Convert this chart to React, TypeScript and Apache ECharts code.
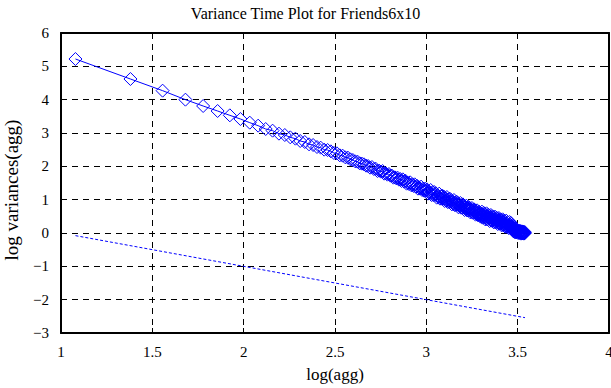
import React, { useEffect, useRef } from "react";
import * as echarts from "echarts";

const titleText = "Variance Time Plot for Friends6x10";
const xAxisName = "log(agg)";
const yAxisName = "log variances(agg)";

const xTicks = [1, 1.5, 2, 2.5, 3, 3.5, 4];
const yTicks = [-3, -2, -1, 0, 1, 2, 3, 4, 5, 6];

// aggregation levels (x axis shows log10 of these)
const aggLevels = [
  12, 24, 36, 48, 60, 72, 84, 96, 108, 120,
  132, 144, 156, 168, 180, 192, 204, 216, 228, 240,
  252, 264, 276, 288, 300, 312, 324, 336, 348, 360,
  372, 384, 396, 408, 420, 432, 444, 456, 468, 480,
  492, 504, 516, 528, 540, 552, 564, 576, 588, 600,
  612, 624, 636, 648, 660, 672, 684, 696, 708, 720,
  732, 744, 756, 768, 780, 792, 804, 816, 828, 840,
  852, 864, 876, 888, 900, 912, 924, 936, 948, 960,
  972, 984, 996, 1008, 1020, 1032, 1044, 1056, 1068, 1080,
  1092, 1104, 1116, 1128, 1140, 1152, 1164, 1176, 1188, 1200,
  1212, 1224, 1236, 1248, 1260, 1272, 1284, 1296, 1308, 1320,
  1332, 1344, 1356, 1368, 1380, 1392, 1404, 1416, 1428, 1440,
  1452, 1464, 1476, 1488, 1500, 1512, 1524, 1536, 1548, 1560,
  1572, 1584, 1596, 1608, 1620, 1632, 1644, 1656, 1668, 1680,
  1692, 1704, 1716, 1728, 1740, 1752, 1764, 1776, 1788, 1800,
  1812, 1824, 1836, 1848, 1860, 1872, 1884, 1896, 1908, 1920,
  1932, 1944, 1956, 1968, 1980, 1992, 2004, 2016, 2028, 2040,
  2052, 2064, 2076, 2088, 2100, 2112, 2124, 2136, 2148, 2160,
  2172, 2184, 2196, 2208, 2220, 2232, 2244, 2256, 2268, 2280,
  2292, 2304, 2316, 2328, 2340, 2352, 2364, 2376, 2388, 2400,
  2412, 2424, 2436, 2448, 2460, 2472, 2484, 2496, 2508, 2520,
  2532, 2544, 2556, 2568, 2580, 2592, 2604, 2616, 2628, 2640,
  2652, 2664, 2676, 2688, 2700, 2712, 2724, 2736, 2748, 2760,
  2772, 2784, 2796, 2808, 2820, 2832, 2844, 2856, 2868, 2880,
  2892, 2904, 2916, 2928, 2940, 2952, 2964, 2976, 2988, 3000,
  3012, 3024, 3036, 3048, 3060, 3072, 3084, 3096, 3108, 3120,
  3132, 3144, 3156, 3168, 3180, 3192, 3204, 3216, 3228, 3240,
  3252, 3264, 3276, 3288, 3300, 3312, 3324, 3336, 3348, 3360,
  3372, 3384, 3396, 3408, 3420, 3432, 3444, 3456, 3468,
];

// log variances
const logVariance = [
  5.22, 4.62, 4.27, 4.0, 3.81, 3.66, 3.53, 3.42, 3.31, 3.22,
  3.12, 3.07, 2.98, 2.94, 2.87, 2.83, 2.76, 2.73, 2.66, 2.64,
  2.58, 2.56, 2.5, 2.49, 2.45, 2.4, 2.39, 2.33, 2.32, 2.27,
  2.26, 2.21, 2.19, 2.15, 2.14, 2.09, 2.08, 2.06, 2.02, 2.01,
  1.96, 1.98, 1.92, 1.93, 1.86, 1.87, 1.84, 1.86, 1.78, 1.79,
  1.75, 1.77, 1.72, 1.72, 1.66, 1.67, 1.64, 1.66, 1.6, 1.62,
  1.56, 1.61, 1.54, 1.57, 1.48, 1.51, 1.47, 1.52, 1.43, 1.46,
  1.41, 1.46, 1.39, 1.42, 1.33, 1.37, 1.33, 1.39, 1.29, 1.33,
  1.27, 1.33, 1.27, 1.31, 1.18, 1.24, 1.19, 1.29, 1.14, 1.22,
  1.14, 1.23, 1.14, 1.19, 1.06, 1.13, 1.08, 1.18, 1.03, 1.1,
  1.03, 1.12, 1.03, 1.09, 0.96, 1.03, 0.98, 1.08, 0.93, 1.01,
  0.93, 1.03, 0.94, 0.99, 0.86, 0.93, 0.88, 0.99, 0.84, 0.91,
  0.84, 0.94, 0.85, 0.9, 0.77, 0.85, 0.8, 0.9, 0.76, 0.83,
  0.76, 0.86, 0.77, 0.82, 0.69, 0.77, 0.72, 0.82, 0.68, 0.75,
  0.68, 0.78, 0.69, 0.75, 0.62, 0.69, 0.65, 0.75, 0.61, 0.68,
  0.61, 0.71, 0.62, 0.68, 0.55, 0.62, 0.58, 0.68, 0.54, 0.61,
  0.54, 0.64, 0.55, 0.61, 0.49, 0.56, 0.51, 0.64, 0.46, 0.56,
  0.48, 0.6, 0.49, 0.57, 0.41, 0.51, 0.45, 0.59, 0.41, 0.51,
  0.42, 0.55, 0.44, 0.52, 0.36, 0.46, 0.41, 0.54, 0.37, 0.46,
  0.38, 0.5, 0.4, 0.47, 0.32, 0.41, 0.36, 0.49, 0.32, 0.42,
  0.33, 0.46, 0.35, 0.43, 0.27, 0.37, 0.32, 0.45, 0.28, 0.37,
  0.29, 0.41, 0.31, 0.39, 0.23, 0.33, 0.27, 0.41, 0.24, 0.33,
  0.25, 0.37, 0.27, 0.35, 0.19, 0.29, 0.23, 0.37, 0.19, 0.29,
  0.21, 0.33, 0.23, 0.31, 0.15, 0.25, 0.19, 0.33, 0.16, 0.25,
  0.17, 0.3, 0.19, 0.27, 0.11, 0.21, 0.12, 0.16, 0.06, 0.1,
  0.05, 0.09, 0.04, 0.08, 0.02, 0.07, 0.04, 0.09, 0.02, 0.06,
  0.03, 0.08, 0.04, 0.07, 0.0, 0.05, 0.02, 0.07, 0.0, 0.05,
  0.01, 0.06, 0.02, 0.05, -0.02, 0.03, 0.0, 0.05, -0.01, 0.03,
  0.0, 0.04, -0.01, 0.03, -0.02, 0.02, 0.0, 0.03, 0.0,
];

// reference line (slope -1)
const refAgg = [12, 3468];
const refLogVariance = [-0.079, -2.54];

const FONT = "Liberation Serif, Times New Roman, serif";
const BLUE = "#0000ff";

export default function App() {
  const ref = useRef<HTMLDivElement>(null);

  useEffect(() => {
    if (!ref.current) return;
    const chart = echarts.init(ref.current, undefined, { renderer: "svg" });

    const dataPts = aggLevels.map((a, i) => [Math.log10(a), logVariance[i]]);
    const refPts = refAgg.map((a, i) => [Math.log10(a), refLogVariance[i]]);

    const xMin = xTicks[0];
    const xMax = xTicks[xTicks.length - 1];
    const xInt = xTicks[1] - xTicks[0];
    const yMin = yTicks[0];
    const yMax = yTicks[yTicks.length - 1];
    const yInt = yTicks[1] - yTicks[0];

    const fmt = (v: number) => (v < 0 ? "\u2212" + Math.abs(v) : String(v));

    const axisLine = { show: true, onZero: false, lineStyle: { color: "#000", width: 2 } };
    const axisTick = { show: true, inside: true, length: 5, lineStyle: { color: "#000", width: 1 } };
    const splitLine = { show: true, lineStyle: { color: "#000", width: 1, type: [6, 5] } };
    const labelStyle = { fontFamily: FONT, fontSize: 15, color: "#000" };

    chart.setOption({
      animation: false,
      title: {
        text: titleText,
        left: "center",
        top: 0,
        textStyle: { fontFamily: FONT, fontSize: 16, fontWeight: "normal", color: "#000" },
      },
      grid: { left: 61, right: 2, top: 33, bottom: 55, containLabel: false, outerBoundsMode: "none" },
      graphic: [
        {
          type: "text",
          x: 11,
          y: 190,
          rotation: Math.PI / 2,
          style: {
            text: yAxisName,
            fontFamily: FONT,
            fontSize: 19,
            fill: "#000",
            align: "center",
            verticalAlign: "middle",
            textAlign: "center",
            textVerticalAlign: "middle",
          },
        },
      ],
      xAxis: [
        {
          type: "value",
          position: "bottom",
          min: xMin,
          max: xMax,
          interval: xInt,
          name: xAxisName,
          nameLocation: "middle",
          nameGap: 33,
          nameTextStyle: { fontFamily: FONT, fontSize: 17, color: "#000" },
          axisLine,
          axisTick,
          splitLine,
          axisLabel: { ...labelStyle, margin: 11, formatter: fmt },
        },
        {
          type: "value",
          position: "top",
          min: xMin,
          max: xMax,
          interval: xInt,
          axisLine,
          axisTick,
          splitLine: { show: false },
          axisLabel: { show: false },
        },
      ],
      yAxis: [
        {
          type: "value",
          position: "left",
          min: yMin,
          max: yMax,
          interval: yInt,
          axisLine,
          axisTick,
          splitLine,
          axisLabel: { ...labelStyle, margin: 12, formatter: fmt },
        },
        {
          type: "value",
          position: "right",
          min: yMin,
          max: yMax,
          interval: yInt,
          axisLine,
          axisTick,
          splitLine: { show: false },
          axisLabel: { show: false },
        },
      ],
      series: [
        {
          type: "line",
          xAxisIndex: 0,
          yAxisIndex: 0,
          data: dataPts,
          symbol: "diamond",
          symbolSize: 13,
          showAllSymbol: true,
          itemStyle: { color: "rgba(0,0,0,0)", borderColor: BLUE, borderWidth: 1 },
          lineStyle: { color: BLUE, width: 1 },
          emphasis: { disabled: true },
          z: 3,
        },
        {
          type: "line",
          xAxisIndex: 0,
          yAxisIndex: 0,
          data: refPts,
          symbol: "none",
          lineStyle: { color: BLUE, width: 1, type: [3, 2] },
          emphasis: { disabled: true },
          z: 3,
        },
      ],
    });

    return () => chart.dispose();
  }, []);

  return (
    <div
      ref={ref}
      style={{ position: "fixed", left: 0, top: 0, width: 611, height: 388, background: "#fff" }}
    />
  );
}
